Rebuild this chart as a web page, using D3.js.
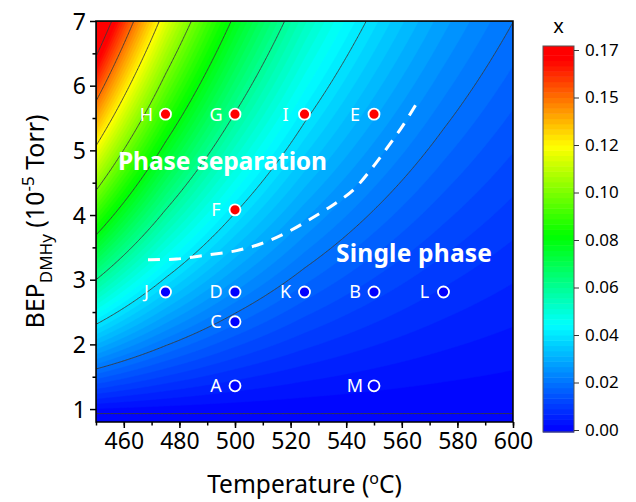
<!DOCTYPE html>
<html>
<head>
<meta charset="utf-8">
<script src="https://cdn.jsdelivr.net/npm/d3@7"></script>
<style>
  body { margin: 0; background: #fff; }
  text { font-family: "Noto Sans", "Open Sans", sans-serif; }
</style>
</head>
<body>
<script>
let width = 636,
    height = 502,
    margin = ({top: 21, right: 123, bottom: 80, left: 96});

// axis ticks
let tempTicks = [460, 480, 500, 520, 540, 560, 580, 600];
let bepTicks = [1, 2, 3, 4, 5, 6, 7];

// field: BEP rise per contour step at each temperature
let spanT = [450, 475, 500, 525, 550, 575, 600];
let spanBEP = [0.69, 1.05, 1.55, 2.25, 3.15, 4.40, 6.05];
let bepZero = 0.93;      // x = 0 line
let levelStep = 0.02077; // contour line step

// colour bar
let cbTickLabels = ["0.00", "0.02", "0.04", "0.06", "0.08", "0.10", "0.12", "0.15", "0.17"];
let colorStopValues = [0, 0.046, 0.085, 0.124, 0.162];
let colorStops = ["#0000ff", "#00ffff", "#00ff00", "#ffff00", "#ff0000"];

// samples
let pointLabels = ["H", "G", "I", "E", "F", "J", "D", "K", "B", "L", "C", "A", "M"];
let pointT = [475, 500, 525, 550, 500, 475, 500, 525, 550, 575, 500, 500, 550];
let pointBEP = [5.56, 5.56, 5.56, 5.56, 4.08, 2.81, 2.81, 2.81, 2.81, 2.81, 2.35, 1.36, 1.36];
let pointSeparated = [1, 1, 1, 1, 1, 0, 0, 0, 0, 0, 0, 0, 0];

// phase boundary (dashed)
let boundaryT = [468.7, 479.0, 489.8, 500.6, 509.6, 518.6, 527.6, 535.4, 542.6, 549.2, 555.1, 560.5, 566.5];
let boundaryBEP = [3.31, 3.32, 3.38, 3.45, 3.56, 3.73, 3.95, 4.16, 4.39, 4.72, 5.06, 5.39, 5.81];

let x = d3.scaleLinear()
    .domain([450, 600])
    .range([margin.left, width - margin.right]);

let y = d3.scaleLinear()
    .domain([0.8, 7])
    .range([height - margin.bottom, margin.top]);

let color = d3.scaleLinear()
    .domain(colorStopValues)
    .range(colorStops)
    .clamp(true);

let logSpan = d3.scaleLinear().domain(spanT).range(spanBEP.map(Math.log));
let field = (t, p) => levelStep * (p - bepZero) / Math.exp(logSpan(t));

const svg = d3.select("body").append("svg")
    .attr("width", width)
    .attr("height", height)
    .attr("viewBox", [0, 0, width, height]);

const pw = x.range()[1] - x.range()[0],
      ph = y.range()[0] - y.range()[1];

svg.append("clipPath").attr("id", "clip")
  .append("rect")
    .attr("x", margin.left).attr("y", margin.top)
    .attr("width", pw).attr("height", ph);

// grid for contouring
const nx = 300, ny = 290;
const values = new Array(nx * ny);
for (let j = 0; j < ny; j++) {
  for (let i = 0; i < nx; i++) {
    let t = x.invert(margin.left + (i + 0.5) / nx * pw);
    let p = y.invert(margin.top + (j + 0.5) / ny * ph);
    values[j * nx + i] = field(t, p);
  }
}

const gridPath = d3.geoPath(d3.geoTransform({
  point(gx, gy) {
    this.stream.point(margin.left + gx / nx * pw, margin.top + gy / ny * ph);
  }
}));

const fillStep = levelStep / 9;
const fillLevels = d3.range(1, 90).map(k => k * fillStep);

const plot = svg.append("g").attr("clip-path", "url(#clip)");

plot.append("rect")
    .attr("x", margin.left).attr("y", margin.top)
    .attr("width", pw).attr("height", ph)
    .attr("fill", color(fillStep / 2));

plot.append("g")
  .selectAll("path")
  .data(d3.contours().size([nx, ny]).thresholds(fillLevels)(values))
  .join("path")
    .attr("d", gridPath)
    .attr("fill", d => color(d.value + fillStep / 2))
    .attr("stroke", d => color(d.value + fillStep / 2))
    .attr("stroke-width", 0.5);

plot.append("g")
  .selectAll("path")
  .data(d3.contours().size([nx, ny]).thresholds(d3.range(0, 10).map(k => k * levelStep + 1e-6))(values))
  .join("path")
    .attr("d", gridPath)
    .attr("fill", "none")
    .attr("stroke", "#3a3a3a")
    .attr("stroke-width", 0.9);

// phase boundary
plot.append("path")
    .datum(boundaryT.map((t, i) => [t, boundaryBEP[i]]))
    .attr("d", d3.line().x(d => x(d[0])).y(d => y(d[1])).curve(d3.curveCatmullRom))
    .attr("fill", "none")
    .attr("stroke", "#fff")
    .attr("stroke-width", 3)
    .attr("stroke-dasharray", "12,9");

// region labels
svg.append("text")
    .attr("x", 118).attr("y", 170)
    .attr("fill", "#fff")
    .attr("font-size", 24.5).attr("font-weight", "bold")
    .attr("textLength", 209)
    .text("Phase separation");

svg.append("text")
    .attr("x", 336).attr("y", 262)
    .attr("fill", "#fff")
    .attr("font-size", 24.5).attr("font-weight", "bold")
    .attr("textLength", 156)
    .text("Single phase");

// points
const pts = svg.append("g")
  .selectAll("g")
  .data(pointLabels.map((l, i) => ({l, t: pointT[i], p: pointBEP[i], sep: pointSeparated[i]})))
  .join("g");

pts.append("circle")
    .attr("cx", d => x(d.t))
    .attr("cy", d => y(d.p))
    .attr("r", 5.5)
    .attr("fill", d => d.sep ? "#ff0000" : "#0000ff")
    .attr("stroke", "#fff")
    .attr("stroke-width", 1.8);

pts.append("text")
    .attr("x", d => x(d.t) - 19)
    .attr("y", d => y(d.p) + 6.5)
    .attr("text-anchor", "middle")
    .attr("fill", "#fff")
    .attr("font-size", 18)
    .text(d => d.l);

// frame
svg.append("rect")
    .attr("x", margin.left).attr("y", margin.top)
    .attr("width", pw).attr("height", ph)
    .attr("fill", "none")
    .attr("stroke", "#000")
    .attr("stroke-width", 1.5);

// axes
let xAxis = g => g
    .attr("transform", `translate(0,${height - margin.bottom})`)
    .call(d3.axisBottom(x).tickValues(tempTicks).tickSize(6).tickPadding(5))
    .call(g => g.select(".domain").remove())
    .call(g => g.selectAll("text").attr("font-size", 23).attr("fill", "#000"))
    .call(g => g.selectAll(".tick line").attr("stroke-width", 1.5));

let yAxis = g => g
    .attr("transform", `translate(${margin.left},0)`)
    .call(d3.axisLeft(y).tickValues(bepTicks).tickFormat(d3.format("d")).tickSize(6).tickPadding(4))
    .call(g => g.select(".domain").remove())
    .call(g => g.selectAll("text").attr("font-size", 23).attr("fill", "#000").attr("dy", "0.36em"))
    .call(g => g.selectAll(".tick line").attr("stroke-width", 1.5));

svg.append("g")
    .attr("transform", `translate(0,${height - margin.bottom})`)
    .call(d3.axisBottom(x).tickValues(d3.range(450, 601, 10)).tickSize(3.5).tickFormat(""))
    .call(g => g.select(".domain").remove())
    .call(g => g.selectAll(".tick line").attr("stroke-width", 1.5));

svg.append("g")
    .attr("transform", `translate(${margin.left},0)`)
    .call(d3.axisLeft(y).tickValues(d3.range(1.5, 7, 1)).tickSize(3.5).tickFormat(""))
    .call(g => g.select(".domain").remove())
    .call(g => g.selectAll(".tick line").attr("stroke-width", 1.5));

svg.append("g").call(xAxis);
svg.append("g").call(yAxis);

// axis titles
svg.append("text")
    .attr("x", (margin.left + width - margin.right) / 2)
    .attr("y", 493)
    .attr("text-anchor", "middle")
    .attr("font-size", 24.5)
    .call(t => {
      t.append("tspan").text("Temperature (");
      t.append("tspan").attr("font-size", 16).attr("dy", -9).text("o");
      t.append("tspan").attr("dy", 9).text("C)");
    });

svg.append("text")
    .attr("transform", `translate(44,${(margin.top + height - margin.bottom) / 2}) rotate(-90)`)
    .attr("text-anchor", "middle")
    .attr("font-size", 25)
    .call(t => {
      t.append("tspan").text("BEP");
      t.append("tspan").attr("font-size", 17).attr("dy", 8).text("DMHy");
      t.append("tspan").attr("dy", -8).text(" (10");
      t.append("tspan").attr("font-size", 17).attr("dy", -10).text("-5");
      t.append("tspan").attr("dy", 10).text(" Torr)");
    });

// colour bar
const cbX = 543, cbW = 31, cbTop = 46, cbBottom = 432;
let cy = d3.scaleLinear()
    .domain([0, 8 * levelStep])
    .range([430, 50]);
const cbMax = cy.invert(cbTop);
const cbBands = d3.range(0, 90).map(k => k * fillStep).filter(v => v < cbMax);

svg.append("g")
  .selectAll("rect")
  .data(cbBands)
  .join("rect")
    .attr("x", cbX)
    .attr("width", cbW)
    .attr("y", d => Math.max(cbTop, cy(Math.min(d + fillStep, cbMax))))
    .attr("height", d => Math.min(cbBottom, d === 0 ? cbBottom : cy(d)) - Math.max(cbTop, cy(Math.min(d + fillStep, cbMax))) + 0.5)
    .attr("fill", d => color(d + fillStep / 2));

svg.append("rect")
    .attr("x", cbX).attr("y", cbTop)
    .attr("width", cbW).attr("height", cbBottom - cbTop)
    .attr("fill", "none")
    .attr("stroke", "#555")
    .attr("stroke-width", 1);

svg.append("g")
    .attr("transform", `translate(${cbX + cbW},0)`)
    .call(d3.axisRight(cy)
        .tickValues(cbTickLabels.map((l, i) => i * levelStep))
        .tickFormat((d, i) => cbTickLabels[i])
        .tickSize(5).tickPadding(6))
    .call(g => g.select(".domain").remove())
    .call(g => g.selectAll("text").attr("font-size", 17).attr("fill", "#000"))
    .call(g => g.selectAll(".tick line").attr("stroke", "#333"));

svg.append("text")
    .attr("x", cbX + cbW / 2)
    .attr("y", 33)
    .attr("text-anchor", "middle")
    .attr("font-size", 20)
    .text("x");
</script>
</body>
</html>
